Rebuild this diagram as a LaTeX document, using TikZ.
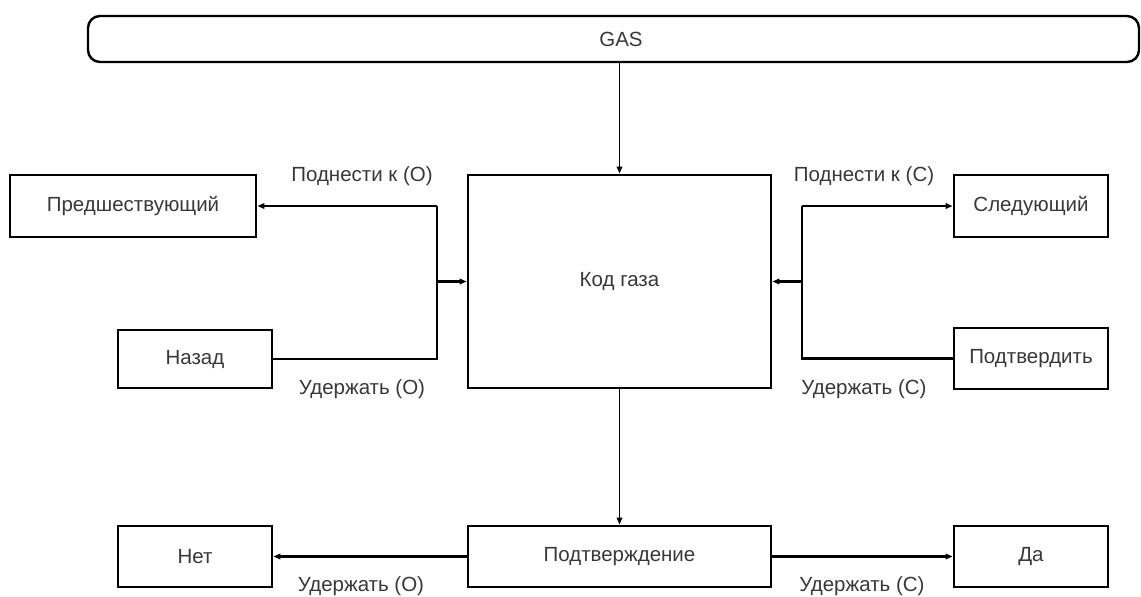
\documentclass[tikz,border=0pt]{standalone}
\usepackage{fontspec}
\setmainfont{Liberation Sans}
\usetikzlibrary{arrows.meta}

\definecolor{txtgray}{HTML}{383838}

\tikzset{
  every node/.style={font=\fontsize{20.5}{24}\selectfont, text=txtgray},
  box/.style={draw=black, line width=2.8pt, inner sep=0pt},
  link/.style={line width=2.2pt, -{Triangle[length=7pt,width=5.5pt]}},
  wire/.style={line width=2.2pt}
}

\begin{document}
\begin{tikzpicture}[x=1pt,y=-1pt]
\useasboundingbox (0,0) rectangle (1141,597);

% Bande GAS
\node[box, line width=2.4pt, rounded corners=12pt,
      minimum width=1051pt, minimum height=46pt] (gas) at (613.5,39) {};
\node (gastext) at (621,39) {GAS};

% Code gaz
\node[box, minimum width=303pt, minimum height=213pt] (code) at (619.5,281.5) {Код газа};

% Gauche
\node[box, minimum width=246pt, minimum height=62pt] (prev) at (133,206) {Предшествующий};
\node[box, minimum width=154pt, minimum height=58pt] (back) at (195,359) {Назад};

% Droite
\node[box, minimum width=154pt, minimum height=62pt] (next) at (1031,206) {Следующий};
\node[box, minimum width=154pt, minimum height=61pt] (confirm) at (1031,358.5) {Подтвердить};

% Bas
\node[box, minimum width=303pt, minimum height=61pt] (query) at (619.5,556.5) {Подтверждение};
\node[box, minimum width=154pt, minimum height=61pt] (no) at (195,556.5) {Нет};
\node[box, minimum width=154pt, minimum height=61pt] (yes) at (1031,556.5) {Да};

% Bus
\coordinate (lbus) at (437,281.5);
\coordinate (rbus) at (802,281.5);

\draw[link, line width=1.8pt] (gas.south -| code.north) -- (code.north);

\draw[link] (lbus |- prev) -- (prev.east);
\draw[wire] (back.east) -- (lbus |- back) -- (lbus |- prev);
\draw[link] (lbus) -- (code.west);

\draw[link] (rbus |- next) -- (next.west);
\draw[wire] (confirm.west) -- (rbus |- confirm) -- (rbus |- next);
\draw[link] (rbus) -- (code.east);

\draw[link, line width=1.8pt] (code.south) -- (query.north);
\draw[link] (query.west) -- (no.east);
\draw[link] (query.east) -- (yes.west);

% Etiquettes
\node (lup) at (362,176) {Поднести к (О)};
\node (lhold) at (362,389) {Удержать (О)};
\node (rup) at (864,176) {Поднести к (С)};
\node (rhold) at (864,389) {Удержать (С)};
\node (nohold) at (361,586) {Удержать (О)};
\node (yeshold) at (862,586) {Удержать (С)};

\end{tikzpicture}
\end{document}
